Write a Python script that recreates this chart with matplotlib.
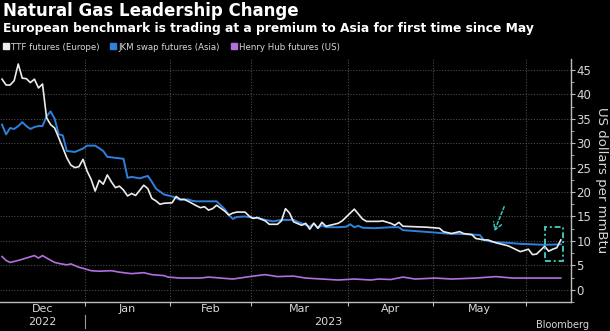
import matplotlib
matplotlib.use("Agg")
import matplotlib.pyplot as plt
from matplotlib.lines import Line2D
from matplotlib.patches import Rectangle

# trading-session index (0 = 1 Dec 2022) and price
ttf_day = [0, 1, 2, 3, 4, 5, 6, 7, 8, 9, 10, 11, 12, 13, 14, 15, 16, 17, 18, 19,
           20, 21, 22, 23, 24, 25, 26, 27, 28, 29, 30, 31, 32, 33, 35, 36, 37, 38, 39, 40,
           42, 43, 44, 45, 46, 48, 49, 50, 51, 52, 53, 55, 56, 57, 58, 60, 61, 62, 63, 65,
           66, 67, 68, 69, 70, 71, 72, 74, 75, 76, 77, 78, 79, 80, 81, 83, 84, 86, 87, 88,
           89, 90, 92, 93, 94, 96, 97, 98, 99, 102, 105, 108, 109, 111, 113, 114, 116, 117, 119, 120,
           122, 123, 125, 126, 128, 130, 131, 132, 134, 135, 136, 137, 138]
ttf_val = [43.1, 41.9, 41.9, 42.8, 46.2, 43.3, 43.2, 42.4, 43.1, 41.3, 42.1, 35.2, 33.8, 33.1, 31.1, 29.1, 27.0, 25.5, 25.0, 25.2,
           26.7, 24.3, 22.6, 20.2, 22.4, 21.6, 23.5, 22.1, 20.9, 21.2, 20.4, 19.2, 19.7, 19.3, 21.4, 20.7, 18.7, 18.2, 17.5, 17.7,
           17.8, 19.1, 18.5, 18.5, 18.1, 17.2, 16.8, 17.0, 16.3, 16.6, 17.3, 16.1, 15.3, 15.7, 15.9, 15.9, 15.1, 14.6, 14.8, 14.1,
           13.4, 13.4, 13.4, 14.1, 16.6, 15.7, 13.9, 13.2, 13.6, 12.4, 13.6, 12.6, 13.8, 13.0, 13.2, 13.6, 14.1, 15.7, 16.5, 15.5,
           14.5, 14.0, 14.0, 14.0, 14.1, 13.6, 13.2, 13.8, 13.0, 12.9, 12.8, 12.6, 11.9, 11.5, 11.9, 11.5, 11.3, 10.5, 10.2, 10.2,
           9.6, 9.4, 9.0, 8.6, 7.8, 8.3, 7.2, 7.3, 8.9, 7.9, 8.3, 8.6, 10.2]

jkm_day = [0, 1, 2, 3, 4, 5, 6, 7, 8, 9, 10, 11, 12, 13, 14, 15, 16, 18, 20, 21,
           23, 25, 26, 28, 30, 31, 32, 34, 36, 37, 38, 40, 41, 42, 44, 46, 47, 48, 53, 55,
           56, 57, 58, 60, 62, 63, 65, 67, 69, 72, 73, 75, 76, 77, 78, 79, 80, 83, 85, 86,
           87, 88, 89, 92, 96, 98, 99, 104, 110, 114, 118, 119, 121, 125, 128, 134, 138]
jkm_val = [33.8, 31.8, 33.1, 32.9, 33.5, 34.3, 33.5, 32.9, 33.3, 33.5, 33.5, 35.5, 36.5, 35.0, 31.8, 31.6, 28.4, 28.2, 28.9, 29.5,
           29.5, 28.4, 27.2, 27.0, 26.8, 22.9, 23.1, 22.8, 23.3, 22.1, 20.7, 19.5, 19.3, 19.1, 18.4, 18.5, 18.2, 18.1, 18.1, 16.5,
           15.3, 14.5, 14.9, 15.0, 14.7, 14.7, 14.3, 14.0, 14.3, 14.3, 13.9, 13.3, 12.9, 13.6, 12.6, 13.2, 12.8, 12.8, 12.9, 13.4,
           12.8, 13.1, 12.7, 12.6, 12.8, 12.8, 12.2, 11.9, 11.5, 11.4, 11.2, 10.2, 9.8, 9.6, 9.4, 9.2, 9.3]

hh_day = [0, 1, 2, 4, 6, 8, 9, 10, 11, 13, 14, 16, 17, 19, 20, 22, 24, 27, 29, 32,
          35, 37, 40, 41, 44, 49, 51, 57, 62, 65, 68, 72, 75, 79, 83, 87, 91, 93, 96, 99,
          102, 107, 111, 117, 122, 126, 130, 138]
hh_val = [6.8, 6.0, 5.6, 6.0, 6.5, 7.0, 6.5, 7.0, 6.5, 5.6, 5.4, 5.1, 5.3, 4.6, 4.4, 3.9, 3.8, 3.9, 3.6, 3.3,
          3.5, 3.1, 2.9, 2.6, 2.4, 2.4, 2.6, 2.2, 2.8, 3.1, 2.7, 2.8, 2.4, 2.2, 2.0, 2.2, 2.0, 2.2, 2.1, 2.6,
          2.2, 2.4, 2.2, 2.4, 2.7, 2.4, 2.4, 2.4]

# month boundaries in session index, and month labels
month_edges = [-0.5, 20.5, 41.5, 61.5, 85.5, 106.5, 129.5]
month_labels = ["Dec", "Jan", "Feb", "Mar", "Apr", "May"]
x_end = 140.5

bg = "#000000"
txt = "#d8d8d8"
grid_c = "#4a4a4a"
c_ttf = "#ececec"
c_jkm = "#2f80dc"
c_hh = "#b36ee0"
teal = "#3cc3b8"

fig = plt.figure(figsize=(6.10, 3.31), dpi=100, facecolor=bg)
ax = fig.add_axes([0.0, 0.0876, 0.936, 0.7344], facecolor=bg)

ax.plot(hh_day, hh_val, color=c_hh, lw=1.2, zorder=3)
ax.plot(jkm_day, jkm_val, color=c_jkm, lw=1.4, zorder=4)
ax.plot(ttf_day, ttf_val, color=c_ttf, lw=1.2, zorder=5)

ax.set_xlim(month_edges[0], x_end)
ax.set_ylim(-2.24, 47.24)

# grid
for v in range(0, 50, 5):
    ax.axhline(v, color=grid_c, lw=0.8, ls=(0, (1, 1.5)), zorder=1)
for e in month_edges[1:]:
    ax.axvline(e, color=grid_c, lw=0.8, ls=(0, (1, 1.5)), zorder=1)

# spines
for s in ["left", "top"]:
    ax.spines[s].set_visible(False)
for s in ["right", "bottom"]:
    ax.spines[s].set_color("#bdbdbd")
    ax.spines[s].set_linewidth(1.0)

# right axis ticks
ax.yaxis.tick_right()
ax.set_yticks(range(0, 50, 5))
ax.set_yticks([v + 2.5 for v in range(-5, 45, 5)], minor=True)
ax.tick_params(axis="y", which="major", colors="#bdbdbd", labelcolor=txt, labelsize=8.5,
               length=3, width=0.8, pad=1)
ax.tick_params(axis="y", which="minor", colors="#bdbdbd", length=2, width=0.6)
ax.yaxis.set_label_position("right")
ax.set_ylabel("US dollars per mmBtu", color=txt, fontsize=9.5, rotation=-90, labelpad=12)

# x ticks at month edges, labels at month centres
ax.set_xticks(month_edges[1:])
ax.set_xticklabels([])
ax.tick_params(axis="x", which="major", colors="#bdbdbd", length=3, width=0.8)
xt = ax.get_xaxis_transform()
centres = [(month_edges[i] + month_edges[i + 1]) / 2 for i in range(len(month_labels))]
for c, lab in zip(centres, month_labels):
    ax.text(c, -0.01, lab, transform=xt, ha="center", va="top", color=txt, fontsize=8)
ax.text(centres[0], -0.062, "2022", transform=xt, ha="center", va="top", color=txt, fontsize=8)
ax.text((month_edges[1] + x_end) / 2, -0.062, "2023", transform=xt, ha="center", va="top",
        color=txt, fontsize=8)
ax.plot([month_edges[1], month_edges[1]], [-0.053, -0.105], transform=xt,
        color="#9a9a9a", lw=0.8, clip_on=False)

# annotations
ax.annotate("", xy=(121.6, 12.0), xytext=(124.0, 17.0),
            arrowprops=dict(arrowstyle="->,head_length=0.5,head_width=0.3", color=teal, lw=1.1,
                            ls=(0, (2, 1.5)), shrinkA=0, shrinkB=0), zorder=6)
ax.add_patch(Rectangle((134.2, 5.8), 4.4, 7.0, fill=False, ec=teal, lw=1.4,
                       ls=(0, (3, 1.5, 1, 1.5)), zorder=6))

# titles
fig.text(0.005, 0.995, "Natural Gas Leadership Change", color="white", fontsize=12,
         fontweight="bold", ha="left", va="top")
fig.text(0.005, 0.935, "European benchmark is trading at a premium to Asia for first time since May",
         color="white", fontsize=8.85, fontweight="bold", ha="left", va="top")

handles = [Line2D([], [], ls="none", marker="s", ms=4.5, color=c) for c in (c_ttf, c_jkm, c_hh)]
leg = fig.legend(handles, ["TTF futures (Europe)", "JKM swap futures (Asia)", "Henry Hub futures (US)"],
                 loc="center left", bbox_to_anchor=(0.0, 0.858), ncol=3, frameon=False,
                 fontsize=6.2, handlelength=0.6, handletextpad=0.3, columnspacing=1.3, borderaxespad=0)
for t in leg.get_texts():
    t.set_color(txt)

fig.text(0.878, 0.002, "Bloomberg", color=txt, fontsize=7, ha="left", va="bottom")

fig.savefig("out.png", dpi=100, facecolor=bg)
